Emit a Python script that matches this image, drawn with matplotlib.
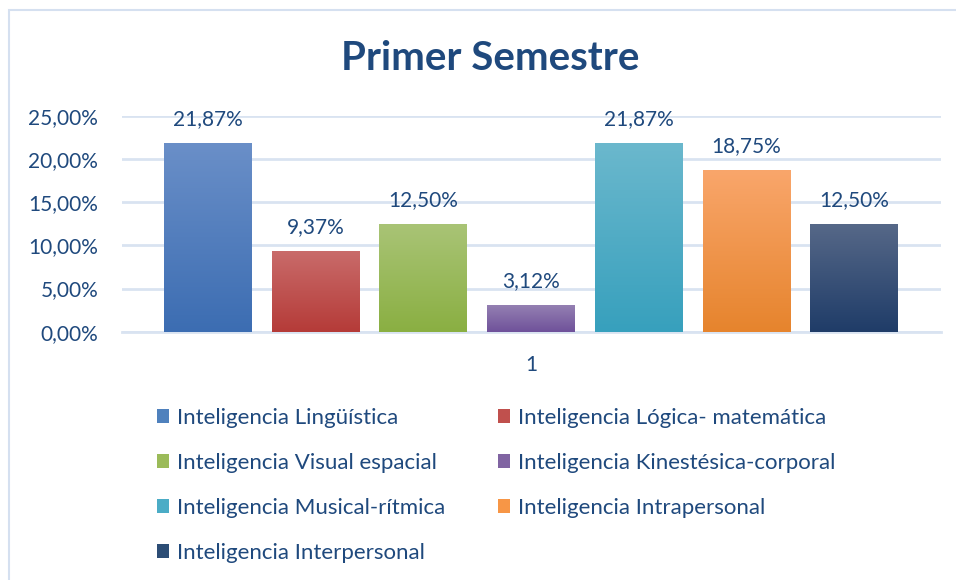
import numpy as np
import matplotlib.pyplot as plt
from matplotlib.patches import Rectangle
from matplotlib.colors import LinearSegmentedColormap

# datos del gráfico
categorias = ['Inteligencia Lingüística', 'Inteligencia Lógica- matemática',
              'Inteligencia Visual espacial', 'Inteligencia Kinestésica-corporal',
              'Inteligencia Musical-rítmica', 'Inteligencia Intrapersonal',
              'Inteligencia Interpersonal']
valores = [0.2187, 0.0937, 0.1250, 0.0312, 0.2187, 0.1875, 0.1250]
etiquetas = ['21,87%', '9,37%', '12,50%', '3,12%', '21,87%', '18,75%', '12,50%']
y_ticks = [0, 0.05, 0.10, 0.15, 0.20, 0.25]
y_labels = ['0,00%', '5,00%', '10,00%', '15,00%', '20,00%', '25,00%']

# colores (arriba claro, abajo oscuro)
top_colors = ['#6A8FC8', '#C96B6A', '#A9C476', '#9480B2', '#6BB8CD', '#F9A66B', '#566888']
bot_colors = ['#3C6DB2', '#B53B38', '#8AAF42', '#6F519A', '#37A0BD', '#E6842D', '#1F3C68']
mid_colors = ['#4F81BD', '#C0504D', '#9BBB59', '#8064A2', '#4BACC6', '#F79646', '#2C4D75']

TXT = '#1F497D'
GRID = '#D9E3F1'

plt.rcParams['font.family'] = ['Lato', 'DejaVu Sans']

fig = plt.figure(figsize=(9.56, 5.8), dpi=100)
ax = fig.add_axes([0.1276, 0.4281, 0.8567, 0.3724])

x = np.arange(len(valores))
bars = ax.bar(x, valores, width=0.815, color=mid_colors, zorder=2)

# degradado vertical en cada barra
grad = np.linspace(1, 0, 256).reshape(-1, 1)
for b, c0, c1 in zip(bars, top_colors, bot_colors):
    cmap = LinearSegmentedColormap.from_list('g', [c1, c0])
    x0, w, h = b.get_x(), b.get_width(), b.get_height()
    ax.imshow(grad, cmap=cmap, extent=(x0, x0 + w, 0, h), aspect='auto',
              origin='upper', zorder=3, interpolation='bicubic')

for b, lab in zip(bars, etiquetas):
    ax.annotate(lab, (b.get_x() + b.get_width() / 2, b.get_height()),
                xytext=(0, 10), textcoords='offset points', ha='center', va='bottom',
                fontsize=15, color=TXT)

ax.set_xlim(-0.796, 6.806)
ax.set_ylim(0, 0.25)
ax.set_yticks(y_ticks)
ax.set_yticklabels(y_labels)
ax.set_xticks([3])
ax.set_xticklabels(['1'])
ax.tick_params(axis='both', length=0, labelsize=15, labelcolor=TXT)
ax.tick_params(axis='y', pad=17)
ax.tick_params(axis='x', pad=17)
for s in ['top', 'right', 'left']:
    ax.spines[s].set_visible(False)
ax.spines['bottom'].set_color(GRID)
ax.spines['bottom'].set_linewidth(2)
ax.grid(axis='y', color=GRID, linewidth=2, zorder=0)
ax.set_axisbelow(True)

fig.text(0.513, 0.90, 'Primer Semestre', ha='center', va='center',
         fontsize=29, fontweight='bold', color=TXT)

# leyenda en dos columnas
leg_kw = dict(frameon=False, fontsize=16, labelcolor=TXT, handlelength=0.55,
              handleheight=0.55, handletextpad=0.35, labelspacing=1.12,
              borderaxespad=0, borderpad=0)
idx1 = [0, 2, 4, 6]
idx2 = [1, 3, 5]
leg1 = fig.legend([bars[i] for i in idx1], [categorias[i] for i in idx1],
                  loc='upper left', bbox_to_anchor=(157 / 956, 1 - 408 / 580), **leg_kw)
leg2 = fig.legend([bars[i] for i in idx2], [categorias[i] for i in idx2],
                  loc='upper left', bbox_to_anchor=(498 / 956, 1 - 408 / 580), **leg_kw)

# borde del gráfico
fig.patches.append(Rectangle((9 / 956, -0.1), 1.2, 1 - 10 / 580 + 0.1,
                             transform=fig.transFigure, fill=False,
                             edgecolor='#D5E0F0', linewidth=1.5))

fig.savefig('out.png', dpi=100)
